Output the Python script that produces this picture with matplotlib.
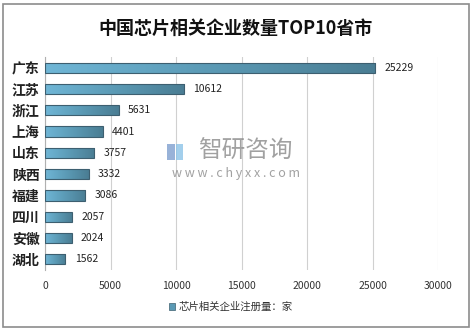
import matplotlib.pyplot as plt
import numpy as np
from matplotlib.patches import Rectangle
from matplotlib.colors import LinearSegmentedColormap

plt.rcParams['font.family'] = ['Noto Sans CJK SC', 'DejaVu Sans']

# Données
provinces = ["广东", "江苏", "浙江", "上海", "山东", "陕西", "福建", "四川", "安徽", "湖北"]
valeurs = [25229, 10612, 5631, 4401, 3757, 3332, 3086, 2057, 2024, 1562]
ticks_x = [0, 5000, 10000, 15000, 20000, 25000, 30000]

fig = plt.figure(figsize=(4.72, 3.31), dpi=100)
ax = fig.add_axes([45 / 472, 1 - 270 / 331, (438 - 45) / 472, (270 - 57) / 331])

# Cadre gris autour de la figure
fig.patches.append(Rectangle((3 / 472, 4 / 331), 466 / 472, 323 / 331, transform=fig.transFigure,
                             fill=False, edgecolor='#8c8c8c', linewidth=1.2))

y = np.arange(len(provinces))
barres = ax.barh(y, valeurs, height=0.48, color='none', edgecolor='#3d5f70', linewidth=0.8, zorder=3)

# Dégradé dans les barres
grad = np.linspace(0, 1, 256).reshape(1, -1)
cmap = LinearSegmentedColormap.from_list('b', ['#6fb6d6', '#5b9ab5', '#4a7d93'])
for b in barres:
    x0, y0 = b.get_x(), b.get_y()
    im = ax.imshow(grad, extent=(x0, x0 + b.get_width(), y0, y0 + b.get_height()),
                   aspect='auto', cmap=cmap, zorder=2)
    im.set_clip_path(b)

for b, v in zip(barres, valeurs):
    ax.text(b.get_width() + 700, b.get_y() + b.get_height() / 2, str(v),
            ha='left', va='center', fontsize=7.5, color='#222222', zorder=4)

ax.set_xlim(0, 30000)
ax.set_ylim(len(provinces) - 0.5, -0.5)
ax.set_xticks(ticks_x)
ax.set_xticklabels([str(t) for t in ticks_x], fontsize=7.5, color='#333333')
ax.set_yticks(y)
ax.set_yticklabels(provinces, fontsize=10, fontweight='bold', color='#222222')
ax.tick_params(length=0, pad=4)
ax.tick_params(axis='x', pad=8)

ax.grid(axis='x', color='#d0d0d0', linewidth=0.8)
ax.set_axisbelow(True)
for s in ['top', 'right', 'bottom']:
    ax.spines[s].set_visible(False)
ax.spines['left'].set_color('#b0b0b0')

fig.text(0.5, 1 - 28 / 331, "中国芯片相关企业数量TOP10省市", ha='center', va='center',
         fontsize=13, fontweight='bold', color='#111111')

# Filigrane
fig.text(245 / 472, 1 - 151 / 331, "智研咨询", ha='center', va='center', fontsize=17,
         color='#8a8a8a', alpha=0.8)
fig.text(236 / 472, 1 - 173 / 331, "w w w . c h y x x . c o m", ha='center', va='center', fontsize=9,
         color='#8a8a8a', alpha=0.8)
fig.patches.append(Rectangle((167 / 472, 1 - 160 / 331), 8 / 472, 16 / 331, transform=fig.transFigure,
                             facecolor='#7f9fcf', edgecolor='none', alpha=0.8))
fig.patches.append(Rectangle((176 / 472, 1 - 160 / 331), 7 / 472, 16 / 331, transform=fig.transFigure,
                             facecolor='#8cc4e8', edgecolor='none', alpha=0.8))

# Légende
fig.patches.append(Rectangle((169 / 472, 1 - 310 / 331), 6 / 472, 7 / 331, transform=fig.transFigure,
                             facecolor='#5b9ab5', edgecolor='#3d5f70', linewidth=0.5))
fig.text(179 / 472, 1 - 307 / 331, "芯片相关企业注册量：家", ha='left', va='center',
         fontsize=7.5, color='#333333')

fig.savefig('out.png', dpi=100)
